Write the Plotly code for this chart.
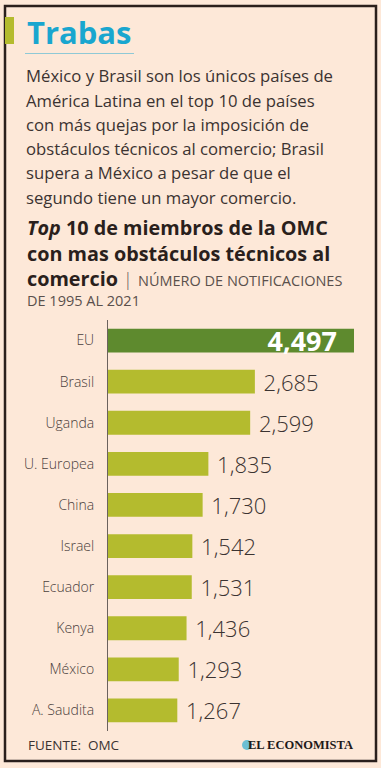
import plotly.graph_objects as go

categories = ["EU", "Brasil", "Uganda", "U. Europea", "China", "Israel", "Ecuador", "Kenya", "México", "A. Saudita"]
values = [4497, 2685, 2599, 1835, 1730, 1542, 1531, 1436, 1293, 1267]

title = "Trabas"
body_lines = [
    "México y Brasil son los únicos países de",
    "América Latina en el top 10 de países",
    "con más quejas por la imposición de",
    "obstáculos técnicos al comercio; Brasil",
    "supera a México a pesar de que el",
    "segundo tiene un mayor comercio.",
]
chart_title_lines = [
    "<b><i>Top</i> 10 de miembros de la OMC</b>",
    "<b>con mas obstáculos técnicos al</b>",
    "<b>comercio</b> <span style='font-size:18px;font-weight:300;color:#6a605c'>|</span> "
    "<span style='font-size:14.5px;font-weight:400;color:#5a504c'>NÚMERO DE NOTIFICACIONES</span>",
]
subtitle2 = "DE 1995 AL 2021"
source = "FUENTE:  OMC"
brand = "EL ECONOMISTA"

W, H = 381, 768
ML, MR, MT, MB = 108, 4, 320, 37
PW, PH = W - ML - MR, H - MT - MB

def px(x):
    return (x - ML) / PW

def py(y):
    return 1 - (y - MT) / PH

BG = "#fde8d8"
DARK = "#2a1f1c"
TEXT = "#3b3331"
OLIVE = "#b4bb2e"
GREEN = "#5e8a2e"
NB = "\u00a0"

FONT = "'Open Sans', Lato, sans-serif"

colors = [GREEN] + [OLIVE] * (len(values) - 1)
textpos = ["inside"] + ["outside"] * (len(values) - 1)
labels = [f"{values[0]:,}" + NB + NB] + [NB + f"{v:,}" for v in values[1:]]

fig = go.Figure()
fig.add_trace(go.Bar(
    x=values, y=categories, orientation="h",
    marker=dict(color=colors, line=dict(width=0)),
    text=labels,
    textposition=textpos,
    insidetextanchor="end",
    constraintext="none",
    insidetextfont=dict(family=FONT, size=27, color="white", weight="bold"),
    outsidetextfont=dict(family=FONT, size=22, color=TEXT, weight=300),
    cliponaxis=False,
    hoverinfo="skip",
))

ann = []
ann.append(dict(text="<b>" + title + "</b>", x=px(25), y=py(32), xanchor="left", yanchor="middle",
                font=dict(family=FONT, size=31, color="#19a6cf")))
for i, line in enumerate(body_lines):
    ann.append(dict(text=line, x=px(24), y=py(76 + i * 24.2), xanchor="left", yanchor="middle",
                    font=dict(family=FONT, size=16.7, color=TEXT)))
ann.append(dict(text="<br>".join(chart_title_lines), x=px(25), y=py(253), xanchor="left", yanchor="middle",
                align="left", font=dict(family=FONT, size=19.8, color=DARK)))
ann.append(dict(text=subtitle2, x=px(25), y=py(300), xanchor="left", yanchor="middle",
                font=dict(family=FONT, size=14.5, color="#5a504c")))
ann.append(dict(text=source, x=px(26), y=py(745), xanchor="left", yanchor="middle",
                font=dict(family=FONT, size=13.5, color=TEXT)))
ann.append(dict(text="<b>" + brand + "</b>", x=px(355), y=py(745), xanchor="right", yanchor="middle",
                font=dict(family="'Liberation Serif', 'DejaVu Serif', serif", size=12.5, color="#1e1a1a")))

for a in ann:
    a.update(xref="paper", yref="paper", showarrow=False)

shapes = [
    dict(type="rect", xref="paper", yref="paper", x0=px(5), x1=px(376), y0=py(6), y1=py(761),
         line=dict(color=DARK, width=2.5), fillcolor="rgba(0,0,0,0)", layer="below"),
    dict(type="rect", xref="paper", yref="paper", x0=px(5), x1=px(14), y0=py(17), y1=py(44),
         line=dict(width=0), fillcolor=OLIVE),
    dict(type="line", xref="paper", yref="paper", x0=px(25), x1=px(134), y0=py(53.5), y1=py(53.5),
         line=dict(color="#8fc9d6", width=1)),
    dict(type="circle", xref="paper", yref="paper", x0=px(242), x1=px(252), y0=py(740), y1=py(750),
         line=dict(width=0), fillcolor="#6cbfd3"),
]

fig.update_layout(
    width=W, height=H,
    margin=dict(l=ML, r=MR, t=MT, b=MB, autoexpand=False),
    paper_bgcolor=BG, plot_bgcolor=BG,
    showlegend=False,
    bargap=0.42,
    annotations=ann,
    shapes=shapes,
    xaxis=dict(range=[0, PW / (246 / 4497)], visible=False, fixedrange=True, automargin=False),
    yaxis=dict(autorange="reversed", showline=True, linecolor="#6b625e", linewidth=1,
               showgrid=False, zeroline=False, ticks="", ticklabelstandoff=10, automargin=False,
               tickfont=dict(family=FONT, size=14, color="#4a403c", weight=300),
               fixedrange=True),
    font=dict(family=FONT),
)

fig.write_html("out.html", config={"displayModeBar": False},
               post_script="document.body.style.margin='0';document.body.style.background='" + BG + "';")
